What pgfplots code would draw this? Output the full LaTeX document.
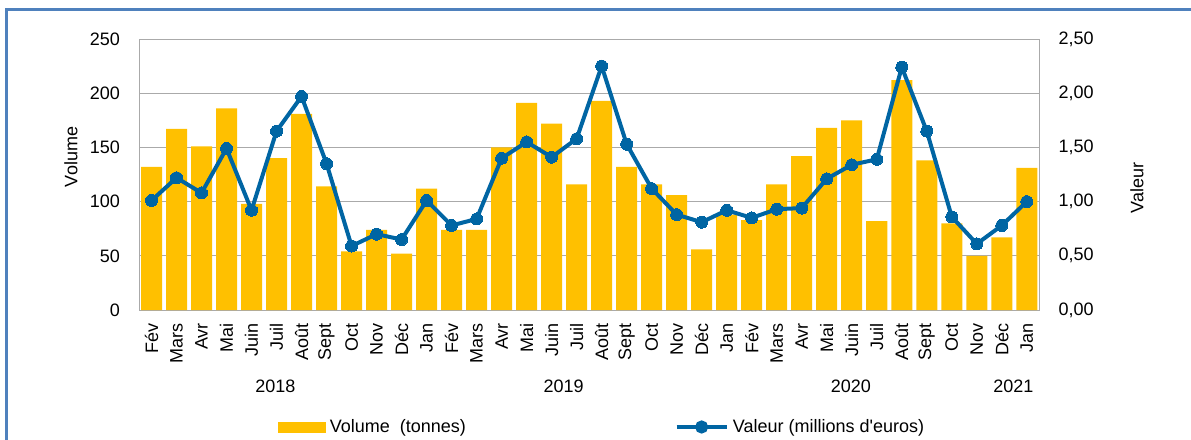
\documentclass[border=0pt]{standalone}
\usepackage{pgfplots}
\usepackage{pgfplotstable}
\pgfplotsset{compat=1.18}
\usepackage{fontspec}
\setmainfont{Liberation Sans}
\definecolor{barY}{RGB}{255,192,0}
\definecolor{lineB}{RGB}{0,101,163}
\definecolor{frameB}{RGB}{79,129,189}
\definecolor{gridG}{RGB}{170,170,170}

\pgfplotstableread{
i vol val
0 132 1.01
1 167 1.22
2 151 1.08
3 186 1.49
4 98 0.92
5 140 1.65
6 181 1.97
7 114 1.35
8 54 0.59
9 74 0.70
10 52 0.65
11 112 1.01
12 74 0.78
13 74 0.84
14 150 1.40
15 191 1.55
16 172 1.41
17 116 1.58
18 193 2.25
19 132 1.53
20 116 1.12
21 106 0.88
22 56 0.81
23 88 0.92
24 83 0.85
25 116 0.93
26 142 0.94
27 168 1.21
28 175 1.34
29 82 1.39
30 212 2.24
31 138 1.65
32 80 0.86
33 50 0.61
34 67 0.78
35 131 1.00
}\data

\begin{document}
\fontsize{18}{21.6}\selectfont
\begin{tikzpicture}[font=\fontsize{18}{21.6}\selectfont]
\useasboundingbox (0pt,0pt) rectangle (1191pt,-439pt);
\draw[frameB, line width=2.5pt] (6.5pt,-450pt) -- (6.5pt,-9.5pt) -- (1200pt,-9.5pt);

\begin{axis}[
  scale only axis, width=900.3pt, height=271pt,
  at={(139pt,-310pt)}, anchor=south west,
  xmin=-0.5, xmax=35.5, ymin=0, ymax=250,
  xtick={0,...,35},
  xticklabels={Fév,Mars,Avr,Mai,Juin,Juil,Août,Sept,Oct,Nov,Déc,Jan,Fév,Mars,Avr,Mai,Juin,Juil,Août,Sept,Oct,Nov,Déc,Jan,Fév,Mars,Avr,Mai,Juin,Juil,Août,Sept,Oct,Nov,Déc,Jan},
  ytick={0,50,100,150,200,250},
  ymajorgrids, grid style={gridG, line width=1pt},
  axis line style={gridG, line width=1pt},
  major tick length=0pt,
  tick pos=left,
  xticklabel style={rotate=90, anchor=east, inner sep=0pt},
  xticklabel shift=13pt,
  yticklabel style={inner sep=0pt},
  yticklabel shift=19pt,
  /pgf/number format/assume math mode=true,
  ylabel={Volume},
  every axis y label/.style={at={(rel axis cs:-0.0755,0.5646)}, rotate=90, anchor=center},
  clip=false,
]
\addplot[ybar, bar width=0.84, fill=barY, draw=none] table[x=i, y=vol]{\data};
\node at (axis cs:4.95,0) [yshift=-76pt] {2018};
\node at (axis cs:16.48,0) [yshift=-76pt] {2019};
\node at (axis cs:27.97,0) [yshift=-76pt] {2020};
\node at (axis cs:34.46,0) [yshift=-76pt] {2021};
\end{axis}

\begin{axis}[
  scale only axis, width=900.3pt, height=271pt,
  at={(139pt,-310pt)}, anchor=south west,
  xmin=-0.5, xmax=35.5, ymin=0, ymax=2.5,
  hide x axis,
  axis y line*=right,
  y axis line style={gridG, line width=1pt},
  major tick length=0pt,
  ytick={0,0.5,1,1.5,2,2.5},
  yticklabel style={inner sep=0pt, /pgf/number format/.cd, fixed, fixed zerofill, precision=2, use comma, assume math mode=true},
  yticklabel shift=19pt,
  ylabel={Valeur},
  every axis y label/.style={at={(rel axis cs:1.1085,0.45)}, rotate=90, anchor=center},
  legend columns=2,
  legend style={at={(rel axis cs:0.1547,-0.4317)}, anchor=west, draw=none, fill=none,
    inner sep=0pt, nodes={inner sep=0pt},
    /tikz/every odd column/.append style={column sep=4.3pt},
    /tikz/every even column/.append style={column sep=208.7pt}},
  clip=false,
]
\addlegendimage{legend image code/.code={\fill[barY] (0pt,-5.2pt) rectangle (46.7pt,5.2pt);}}
\addlegendentry{Volume~ (tonnes)}
\addplot[lineB, line width=4pt, mark=*, mark size=6pt,
  mark options={fill=lineB, draw=lineB, line width=0pt},
  legend image code/.code={\draw[lineB, line width=4pt] (0pt,0pt) -- (50pt,0pt); \fill[lineB] (25pt,0pt) circle (4.5pt);}]
  table[x=i, y=val]{\data};
\addlegendentry{Valeur (millions d{\addfontfeature{Ligatures=TeXOff}'}euros)}
\end{axis}
\end{tikzpicture}
\end{document}
